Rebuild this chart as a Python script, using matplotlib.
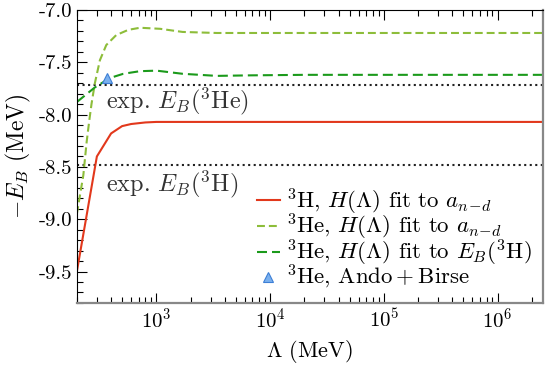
import matplotlib
matplotlib.use("Agg")
import matplotlib.pyplot as plt
from matplotlib.ticker import FormatStrFormatter, MultipleLocator

plt.rcParams['font.family'] = 'serif'
plt.rcParams['font.serif'] = ['cmr10', 'DejaVu Serif']
plt.rcParams['mathtext.fontset'] = 'cm'
plt.rcParams['axes.formatter.use_mathtext'] = True
plt.rcParams['axes.unicode_minus'] = False
plt.rcParams['font.size'] = 15

# 3H, H(Lambda) fit to a_{n-d}
lam_h = [200, 300, 400, 500, 600, 800, 1000, 3000, 1e4, 1e5, 1e6, 2.5e6]
eb_h = [-9.50, -8.40, -8.18, -8.11, -8.09, -8.075, -8.07, -8.07, -8.07, -8.07, -8.07, -8.07]

# 3He, H(Lambda) fit to a_{n-d}
lam_he_a = [200, 228, 244, 257, 269, 288, 319, 363, 444, 567, 718, 1078, 1700, 3400, 1e4, 1e5, 1e6, 2.5e6]
eb_he_a = [-8.95, -8.58, -8.26, -8.06, -7.90, -7.70, -7.48, -7.335, -7.24, -7.19, -7.17, -7.18,
           -7.21, -7.22, -7.22, -7.22, -7.22, -7.22]

# 3He, H(Lambda) fit to E_B(3H)
lam_he_e = [200, 288, 391, 512, 718, 1006, 1700, 3400, 6600, 2e4, 1e5, 1e6, 2.5e6]
eb_he_e = [-7.88, -7.74, -7.65, -7.61, -7.585, -7.58, -7.61, -7.63, -7.625, -7.62, -7.62, -7.62, -7.62]

# Ando + Birse point
lam_ab = [365]
eb_ab = [-7.65]

exp_he3 = -7.718
exp_h3 = -8.482

fig = plt.figure(figsize=(5.45, 3.69), dpi=100)
ax = fig.add_axes([0.141, 0.179, 0.855, 0.794])

ax.axhline(exp_he3, color='#222222', ls=':', lw=1.5)
ax.axhline(exp_h3, color='#222222', ls=':', lw=1.5)

ax.plot(lam_h, eb_h, color='#e2381c', lw=1.5,
        label=r'$^3$H, $H(\Lambda)$ fit to $a_{n\!-\!d}$')
ax.plot(lam_he_a, eb_he_a, color='#8dbd3a', lw=1.5, ls=(0, (3.8, 1.9)),
        label=r'$^3$He, $H(\Lambda)$ fit to $a_{n\!-\!d}$')
ax.plot(lam_he_e, eb_he_e, color='#1b9a1b', lw=1.5, ls=(0, (4.8, 2.4)),
        label=r'$^3$He, $H(\Lambda)$ fit to $E_B(^3$H)')
ax.plot(lam_ab, eb_ab, ls='none', marker='^', ms=7, mfc='#7ab0ee', mec='#3d7fd6', mew=0.8,
        label=r'$^3$He, $\mathrm{Ando}+\mathrm{Birse}$')

ax.text(360, -7.87, r'exp. $E_B(^3$He)', color='#333333', va='center', ha='left', fontsize=17.5)
ax.text(360, -8.67, r'exp. $E_B(^3$H)', color='#333333', va='center', ha='left', fontsize=17.5)

ax.set_xscale('log')
ax.set_xlim(200, 2.5e6)
ax.set_ylim(-9.8, -7.0)
ax.yaxis.set_major_locator(MultipleLocator(0.5))
ax.yaxis.set_minor_locator(MultipleLocator(0.1))
ax.yaxis.set_major_formatter(FormatStrFormatter('%.1f'))

ax.tick_params(which='both', direction='in', top=True, right=False, labelsize=15)
ax.tick_params(which='major', length=7, width=0.8)
ax.tick_params(which='minor', length=4, width=0.8)

for s in ['right', 'bottom']:
    ax.spines[s].set_color('#888888')
    ax.spines[s].set_linewidth(1.6)

ax.set_xlabel(r'$\Lambda$ (MeV)', fontsize=16)
ax.set_ylabel(r'$-E_B$ (MeV)', fontsize=17)

ax.legend(loc='lower right', frameon=False, fontsize=16.5, handlelength=1.0,
          handletextpad=0.25, labelspacing=-0.2, borderaxespad=0.1)

fig.savefig('out.png', dpi=100)
